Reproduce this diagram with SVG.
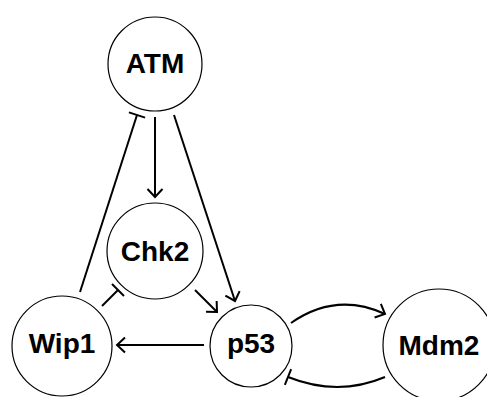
<svg xmlns="http://www.w3.org/2000/svg" width="487" height="397" viewBox="0 0 487 397">
<style>
.node{fill:#fff;stroke:#000;stroke-width:1.2}
.lbl{font-family:"Liberation Sans","DejaVu Sans",sans-serif;font-weight:bold;font-size:28px;text-anchor:middle;fill:#000}
.edge{fill:none;stroke:#000;stroke-width:2}
</style>
<defs>
<marker id="arrow" markerUnits="userSpaceOnUse" markerWidth="20" markerHeight="20" viewBox="-12 -10 14 20" refX="0" refY="0" orient="auto" overflow="visible">
<path d="M-8,-7.5 L0,0 L-8,7.5" fill="none" stroke="#000" stroke-width="2"/>
</marker>
<marker id="bar" markerUnits="userSpaceOnUse" markerWidth="20" markerHeight="20" viewBox="-10 -10 20 20" refX="0" refY="0" orient="auto" overflow="visible">
<path d="M0,-8.5 L0,8.5" fill="none" stroke="#000" stroke-width="2"/>
</marker>
</defs>
<g id="edges">
<path class="edge" d="M155,117 L155,197" marker-end="url(#arrow)"/>
<path class="edge" d="M174,115 L235,301" marker-end="url(#arrow)"/>
<path class="edge" d="M195,290 L217,312" marker-end="url(#arrow)"/>
<path class="edge" d="M80,292 L137,115" marker-end="url(#bar)"/>
<path class="edge" d="M102,306 L118,290" marker-end="url(#bar)"/>
<path class="edge" d="M204,345 L117,345" marker-end="url(#arrow)"/>
<path class="edge" d="M291,323 Q336,291.5 385,314" marker-end="url(#arrow)"/>
<path class="edge" d="M385,377 Q338,397 288,377" marker-end="url(#bar)"/>
</g>
<g id="ATM"><circle class="node" cx="155" cy="64" r="47"/><text class="lbl" x="155" y="73">ATM</text></g>
<g id="Chk2"><circle class="node" cx="155" cy="251" r="48"/><text class="lbl" x="155" y="261">Chk2</text></g>
<g id="Wip1"><circle class="node" cx="62" cy="346" r="50"/><text class="lbl" x="62" y="353">Wip1</text></g>
<g id="p53"><circle class="node" cx="251" cy="346" r="41"/><text class="lbl" x="251" y="353">p53</text></g>
<g id="Mdm2"><circle class="node" cx="439" cy="345" r="56"/><text class="lbl" x="439" y="355">Mdm2</text></g>
</svg>
